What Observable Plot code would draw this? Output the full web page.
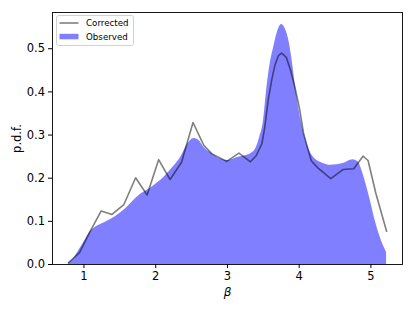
<!DOCTYPE html>
<html><head><meta charset="utf-8">
<script src="https://cdn.jsdelivr.net/npm/d3@7"></script>
<script src="https://cdn.jsdelivr.net/npm/@observablehq/plot@0.6"></script>
<style>
html,body{margin:0;padding:0;background:#fff;}
#chart{position:relative;width:415px;height:311px;}
</style></head><body><div id="chart"></div>
<script>
// Corrected distribution (piecewise line)
const correctedBeta = [0.783,0.94,1.08,1.24,1.39,1.556,1.72,1.88,2.04,2.20,2.36,2.52,2.67,2.78,2.99,3.16,3.32,3.40,3.48,3.52,3.57,3.62,3.66,3.71,3.755,3.82,3.88,3.94,4.00,4.06,4.12,4.17,4.26,4.44,4.61,4.76,4.89,4.96,5.07,5.218];
const correctedPdf  = [0.004,0.028,0.075,0.124,0.116,0.139,0.201,0.161,0.243,0.197,0.237,0.329,0.276,0.257,0.239,0.258,0.238,0.252,0.280,0.318,0.384,0.430,0.461,0.484,0.490,0.480,0.450,0.411,0.365,0.305,0.268,0.240,0.224,0.199,0.220,0.222,0.251,0.241,0.164,0.077];
// Observed distribution (smooth density)
const observedBeta = [0.783,0.85,0.93,1.0,1.07,1.14,1.21,1.30,1.39,1.47,1.556,1.64,1.72,1.80,1.88,1.96,2.04,2.12,2.20,2.28,2.35,2.44,2.49,2.53,2.60,2.67,2.78,2.88,2.99,3.08,3.16,3.25,3.33,3.39,3.45,3.50,3.55,3.60,3.64,3.70,3.755,3.80,3.85,3.90,3.94,4.03,4.09,4.15,4.22,4.31,4.44,4.61,4.75,4.82,4.89,4.98,5.07,5.17,5.218];
const observedPdf  = [0.003,0.012,0.033,0.052,0.072,0.084,0.091,0.098,0.106,0.115,0.126,0.139,0.153,0.164,0.172,0.181,0.191,0.203,0.218,0.233,0.249,0.278,0.288,0.292,0.288,0.272,0.257,0.246,0.241,0.244,0.249,0.252,0.257,0.267,0.295,0.330,0.410,0.470,0.500,0.540,0.556,0.548,0.523,0.475,0.423,0.330,0.290,0.262,0.245,0.236,0.230,0.234,0.243,0.238,0.210,0.156,0.095,0.045,0.028];
const xTicks = [1,2,3,4,5];
const yTicks = [0,0.1,0.2,0.3,0.4,0.5];
const seriesNames = ["Corrected","Observed"];
const xLabel = "β";
const yLabel = "p.d.f.";

const corrected = correctedBeta.map((b,i)=>({beta:b,pdf:correctedPdf[i]}));
const observed = observedBeta.map((b,i)=>({beta:b,pdf:observedPdf[i]}));

const W = 415, H = 311, mL = 52, mR = 13, mT = 12, mB = 47;
const plot = Plot.plot({
  width: W, height: H, marginLeft: mL, marginRight: mR, marginTop: mT, marginBottom: mB,
  style: {fontFamily: "DejaVu Sans", fontSize: "11.5px", background: "white", color: "black", overflow: "visible"},
  x: {domain: [0.561, 5.44]},
  y: {domain: [0, 0.584]},
  marks: [
    Plot.areaY(observed, {x: "beta", y: "pdf", fill: "blue", fillOpacity: 0.5, curve: "monotone-x"}),
    Plot.line(corrected, {x: "beta", y: "pdf", stroke: "black", strokeOpacity: 0.5, strokeWidth: 1.6}),
    Plot.frame({stroke: "black", strokeWidth: 0.9}),
    Plot.axisX({ticks: xTicks, tickSize: 4, tickPadding: 3.5, label: null, tickFormat: d => String(d), fontSize: 11.5}),
    Plot.axisY({ticks: yTicks, tickSize: 4, tickPadding: 3.5, label: null, tickFormat: d => d.toFixed(1), fontSize: 11.5}),
    Plot.text([xLabel], {frameAnchor: "bottom", dy: 27.5, text: d => d, fontStyle: "italic", textAnchor: "middle", lineAnchor: "middle", fontSize: 12}),
    Plot.text([yLabel], {frameAnchor: "left", dx: -35.5, rotate: -90, text: d => d, textAnchor: "middle", lineAnchor: "middle", fontSize: 11.5})
  ]
});

// Legend (upper left, matplotlib style)
const svg = d3.select(plot);
const lg = svg.append("g").attr("transform", `translate(${mL + 4.5},${mT + 3.5})`);
lg.append("rect").attr("x", 0).attr("y", 0).attr("width", 77).attr("height", 30).attr("rx", 2)
  .attr("fill", "white").attr("fill-opacity", 0.8).attr("stroke", "#cccccc").attr("stroke-width", 0.9);
lg.append("line").attr("x1", 3).attr("x2", 22).attr("y1", 7.5).attr("y2", 7.5)
  .attr("stroke", "black").attr("stroke-opacity", 0.5).attr("stroke-width", 1.6);
lg.append("rect").attr("x", 3).attr("y", 18.3).attr("width", 19).attr("height", 5.5)
  .attr("fill", "blue").attr("fill-opacity", 0.5);
lg.selectAll("text.lab").data(seriesNames).join("text").attr("class", "lab")
  .attr("x", 29.5).attr("y", (d, i) => 7.5 + i * 13.5).attr("dy", "0.35em")
  .attr("text-anchor", "start")
  .attr("font-size", 8.7).attr("font-family", "DejaVu Sans").attr("fill", "black").text(d => d);

document.getElementById("chart").appendChild(plot);
</script>
</body></html>
